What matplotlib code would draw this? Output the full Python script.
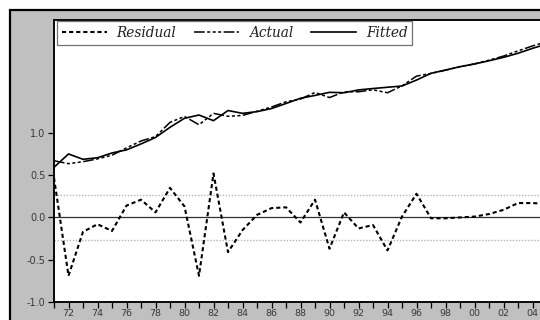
"""Actual, fitted and residual series from the annual regression."""

import matplotlib

matplotlib.use("Agg")
import matplotlib.pyplot as plt  # noqa: E402
from matplotlib.patches import Rectangle  # noqa: E402


YEARS = list(range(1971, 2006))
RESIDUAL = [
    0.47, -0.69, -0.17, -0.08, -0.16, 0.14, 0.21, 0.06, 0.35, 0.13,
    -0.69, 0.52, -0.41, -0.15, 0.03, 0.11, 0.12, -0.06, 0.21, -0.37,
    0.06, -0.13, -0.09, -0.39, 0.01, 0.28, -0.01, -0.01, 0.00, 0.01,
    0.04, 0.09, 0.17, 0.17, 0.16,
]
FITTED = [
    9.55, 10.50, 10.12, 10.23, 10.57, 10.79, 11.21, 11.67, 12.39, 13.03,
    13.26, 12.86, 13.58, 13.38, 13.50, 13.72, 14.08, 14.45, 14.65, 14.87,
    14.84, 15.04, 15.14, 15.23, 15.32, 15.74, 16.22, 16.45, 16.69, 16.88,
    17.11, 17.35, 17.64, 17.99, 18.30,
]
ACTUAL = [
    10.02, 9.81, 9.95, 10.15, 10.41, 10.93, 11.42, 11.73, 12.74, 13.16,
    12.57, 13.38, 13.17, 13.23, 13.53, 13.83, 14.20, 14.39, 14.86, 14.50,
    14.90, 14.91, 15.05, 14.84, 15.33, 16.02, 16.21, 16.44, 16.69, 16.89,
    17.15, 17.44, 17.81, 18.16, 18.46,
]
RESID_STD = 0.27
LEFT_TICKS = [-1.0, -0.5, 0.0, 0.5, 1.0]

FRAME_GRAY = "#c0c0c0"
TEXT_GRAY = "#383838"


def main() -> None:
    fig = plt.figure(figsize=(5.4, 3.2), dpi=100)
    fig.patch.set_facecolor("white")

    # grey panel behind the plot, with a dark border
    panel = Rectangle(
        (10 / 540, -0.2), 1.2, 1.2 - 10 / 320,
        transform=fig.transFigure, facecolor=FRAME_GRAY,
        edgecolor="black", linewidth=1.6, zorder=-5,
    )
    fig.patches.append(panel)

    ax = fig.add_axes([54 / 540, 18 / 320, 493 / 540, 282 / 320])
    ax.set_facecolor("white")
    ax2 = ax.twinx()

    ax.axhline(0.0, color="#303030", linewidth=0.9, zorder=1)
    for level in (RESID_STD, -RESID_STD):
        ax.axhline(level, color="#b4b4b4", linewidth=1.0, linestyle=(0, (1, 1.2)), zorder=1)

    (resid_line,) = ax.plot(
        YEARS, RESIDUAL, color="black", linewidth=1.5,
        linestyle=(0, (2.0, 1.4)), label="Residual", zorder=3,
    )
    (actual_line,) = ax2.plot(
        YEARS, ACTUAL, color="black", linewidth=1.1,
        linestyle=(0, (7, 1.6, 2, 1.6, 2, 1.6, 2, 1.6)), label="Actual",
    )
    (fitted_line,) = ax2.plot(
        YEARS, FITTED, color="black", linewidth=1.2, label="Fitted",
    )

    ax.set_xlim(1971, 2005)
    ax.set_ylim(-1.0, 2.335)
    ax2.set_ylim(0.0, 20.0)

    ax.set_xticks(YEARS)
    ax.set_xticklabels([f"{y % 100:02d}" if y % 2 == 0 else "" for y in YEARS])
    ax.set_yticks(LEFT_TICKS)
    ax.set_yticklabels([f"{v:.1f}" for v in LEFT_TICKS])
    ax.tick_params(
        direction="out", length=4, width=0.9, color="black",
        labelsize=7, labelcolor=TEXT_GRAY, pad=2,
    )
    ax.tick_params(axis="x", pad=1.2, labelsize=6.8)
    # right-hand scale sits past the edge of the figure
    ax2.tick_params(direction="out", length=4, width=0.9, labelright=False)

    for spine in list(ax.spines.values()) + list(ax2.spines.values()):
        spine.set_color("black")
        spine.set_linewidth(1.1)

    legend = ax2.legend(
        handles=[resid_line, actual_line, fitted_line],
        ncol=3, loc="upper left", bbox_to_anchor=(3 / 493, 1 - 1.5 / 282),
        borderaxespad=0.0, fancybox=False, framealpha=1.0,
        edgecolor="#707070", handlelength=3.3, handletextpad=0.7,
        columnspacing=1.35, borderpad=0.35,
        prop={"family": "DejaVu Serif", "style": "italic", "size": 9.8},
    )
    legend.get_frame().set_linewidth(0.9)
    for text in legend.get_texts():
        text.set_color("#202020")

    fig.savefig("out.png", dpi=100)
    plt.close(fig)


if __name__ == "__main__":
    main()
